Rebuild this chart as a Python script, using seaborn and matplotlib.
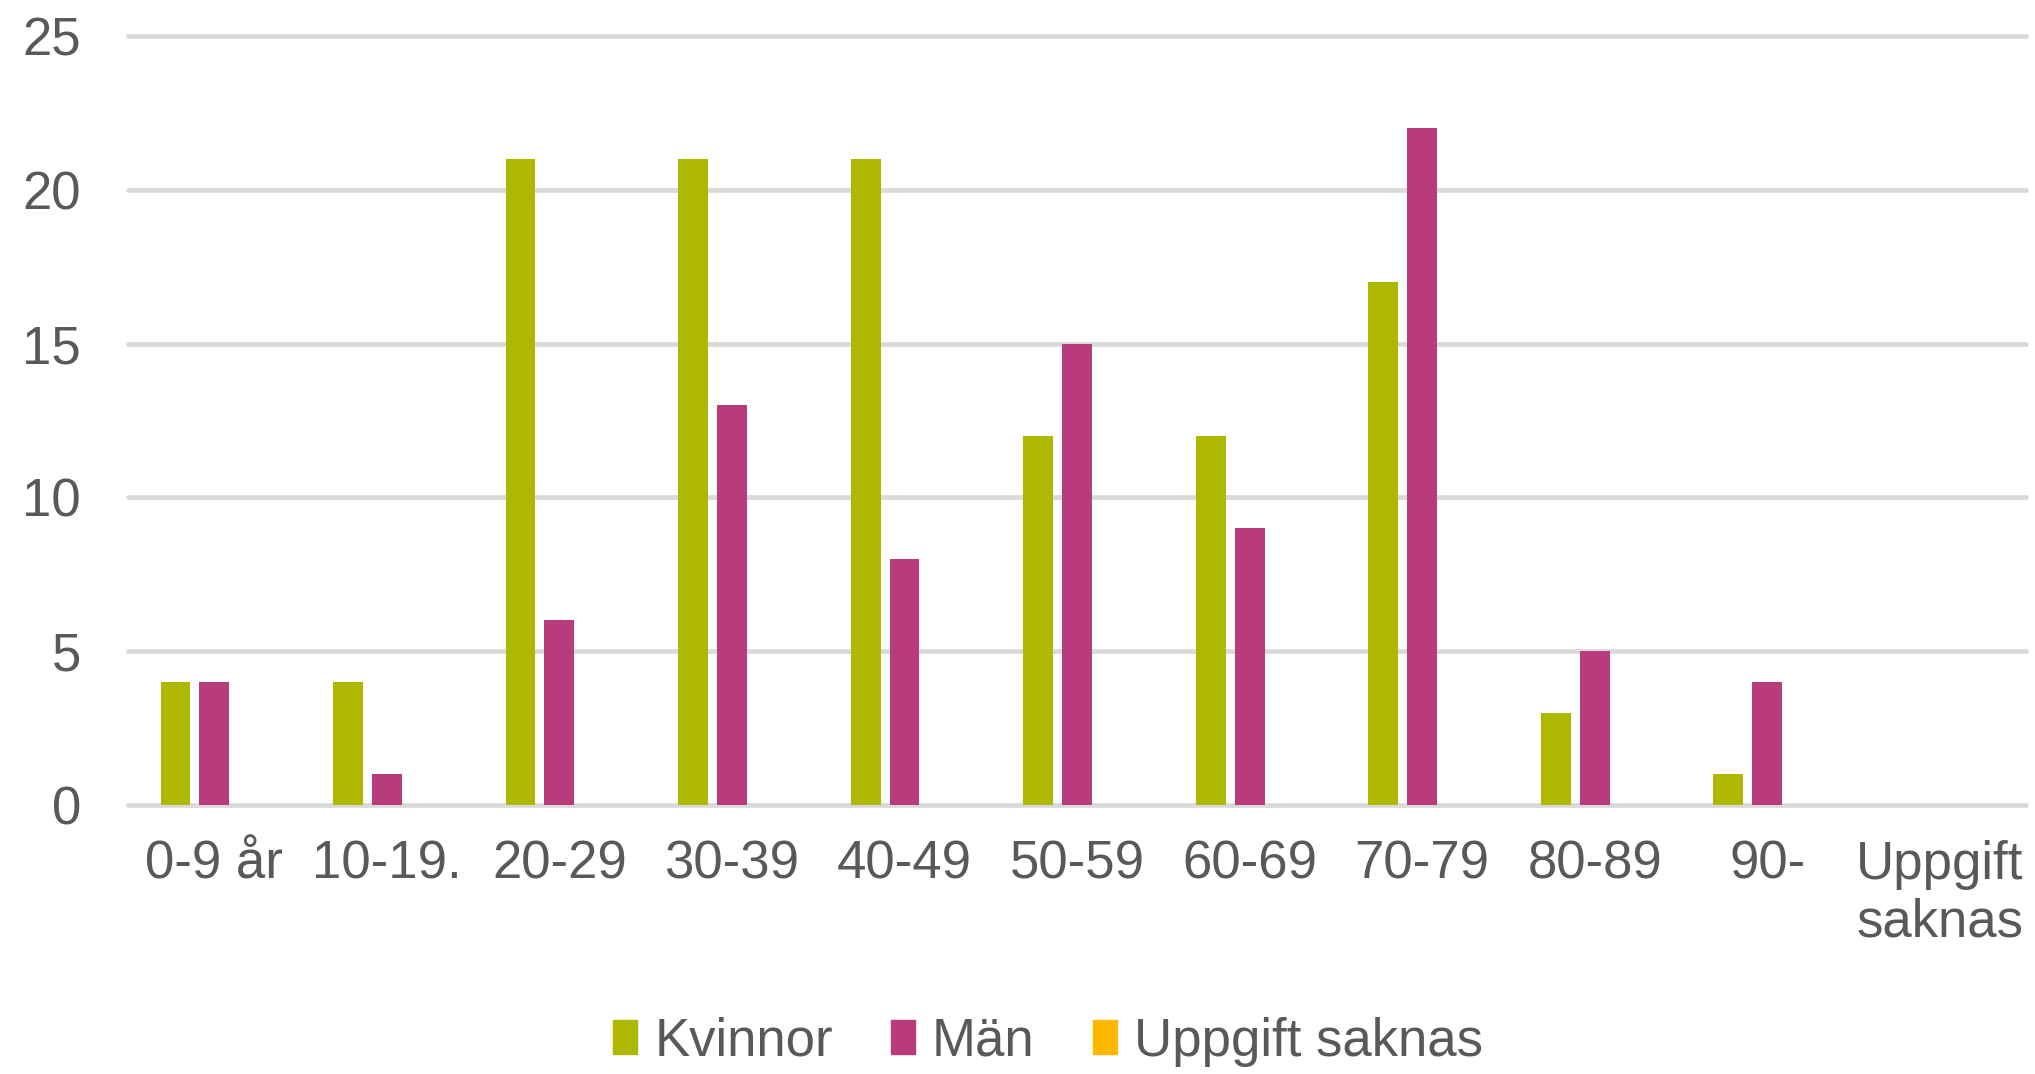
import pandas as pd
import matplotlib
matplotlib.use("Agg")
import matplotlib.pyplot as plt
import seaborn as sns

# ─── Data ────────────────────────────────────────────────────────────────────
age_groups = ["0-9 år", "10-19.", "20-29", "30-39", "40-49", "50-59",
              "60-69", "70-79", "80-89", "90-", "Uppgift\nsaknas"]
kvinnor = [4, 4, 21, 21, 21, 12, 12, 17, 3, 1, 0]
man = [4, 1, 6, 13, 8, 15, 9, 22, 5, 4, 0]
uppgift_saknas = [0, 0, 0, 0, 0, 0, 0, 0, 0, 0, 0]
series = ["Kvinnor", "Män", "Uppgift saknas"]
colors = ["#AFB800", "#B83B7B", "#FDB900"]

df = pd.concat([
    pd.DataFrame({"grupp": age_groups, "antal": vals, "kön": name})
    for name, vals in zip(series, [kvinnor, man, uppgift_saknas])
])

# ─── Plot ────────────────────────────────────────────────────────────────────
sns.set_style("white")
plt.rcParams["font.family"] = ["Liberation Sans", "DejaVu Sans"]
text_color = "#595959"

fig = plt.figure(figsize=(20.35, 10.74), dpi=100)
ax = fig.add_axes([0.0629, 0.2505, 0.9327, 0.716])

sns.barplot(data=df, x="grupp", y="antal", hue="kön", hue_order=series,
            palette=colors, width=0.675, gap=0.23, saturation=1,
            linewidth=0, ax=ax, legend=False)

ax.set_ylim(0, 25)
ax.set_xlim(-0.5, len(age_groups) - 0.5)
ax.set_yticks(range(0, 26, 5))
ax.set_xlabel("")
ax.set_ylabel("")
sns.despine(ax=ax, left=True, bottom=True)

ax.set_axisbelow(True)
ax.yaxis.grid(True, color="#D9D9D9", linewidth=3.4)
for line in ax.get_ygridlines():
    line.set_clip_on(False)

ax.tick_params(axis="both", length=0, labelsize=38, colors=text_color)
ax.tick_params(axis="x", pad=25)
ax.tick_params(axis="y", pad=34)

handles = [matplotlib.patches.Patch(color=c, label=s) for s, c in zip(series, colors)]
fig.legend(handles=handles, loc="center", bbox_to_anchor=(0.515, 0.03),
           ncol=3, frameon=False, fontsize=38, labelcolor=text_color,
           handlelength=0.45, handleheight=0.6, handletextpad=0.33,
           columnspacing=1.1)

fig.savefig("out.png", dpi=100, facecolor="white")
plt.close(fig)
